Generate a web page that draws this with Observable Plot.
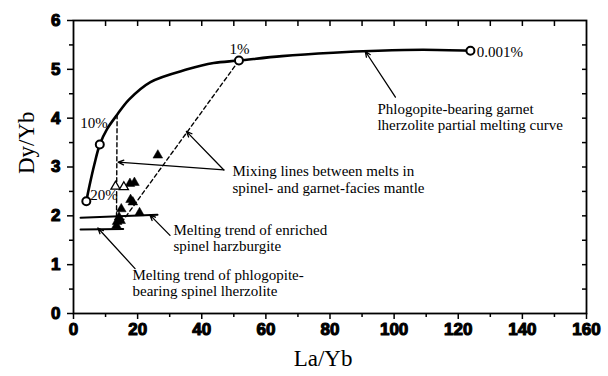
<!DOCTYPE html>
<html><head><meta charset="utf-8">
<script src="https://cdn.jsdelivr.net/npm/d3@7"></script>
<script src="https://cdn.jsdelivr.net/npm/@observablehq/plot@0.6"></script>
<style>
body{margin:0;background:#fff}
#chart svg{display:block}
</style>
</head><body><div id="chart"></div>
<script>
// Partial melting curve of phlogopite-bearing garnet lherzolite
const curveLaYb = [4.0, 5.0, 6.5, 8.2, 10.5, 13.6, 17.3, 24, 35.5, 43.7, 51.6, 65, 81, 95, 109, 123.8];
const curveDyYb = [2.30, 2.62, 3.05, 3.46, 3.78, 4.07, 4.38, 4.74, 5.00, 5.13, 5.18, 5.27, 5.34, 5.38, 5.40, 5.38];
// Melting-degree markers on the curve
const markLaYb = [4.0, 8.2, 51.6, 123.8];
const markDyYb = [2.30, 3.46, 5.18, 5.38];
const markLabel = ["20%", "10%", "1%", "0.001%"];
// Samples (filled triangles)
const sampleLaYb = [26.3, 17.6, 19.0, 17.8, 18.5, 14.9, 20.6, 14.2, 14.7, 13.6, 13.4];
const sampleDyYb = [3.24, 2.66, 2.68, 2.33, 2.28, 2.14, 2.06, 1.97, 1.90, 1.88, 1.80];
// Samples (open triangles)
const openLaYb = [13.1, 15.7];
const openDyYb = [2.60, 2.59];
// Spinel melting trends
const harzLaYb = [2.2, 26.2], harzDyYb = [1.96, 2.02];
const lherzLaYb = [2.2, 15.5], lherzDyYb = [1.72, 1.73];
// Mixing lines
const mixA_LaYb = [13.6, 13.4], mixA_DyYb = [4.07, 1.80];
const mixB_LaYb = [51.6, 14.5], mixB_DyYb = [5.18, 1.82];
// Annotation texts
const noteText = [
  "Phlogopite-bearing garnet\nlherzolite partial melting curve",
  "Mixing lines between melts in\nspinel- and garnet-facies mantle",
  "Melting trend of enriched\nspinel harzburgite",
  "Melting trend of phlogopite-\nbearing spinel lherzolite"
];
const xTicks = [0, 20, 40, 60, 80, 100, 120, 140, 160];
const yTicks = [0, 1, 2, 3, 4, 5, 6];

const serif = "'Liberation Serif', 'Times New Roman', serif";
const sans = "'Liberation Sans', Arial, sans-serif";

const pts = (xs, ys) => xs.map((x, i) => ({x, y: ys[i]}));
const curve = pts(curveLaYb, curveDyYb);
const marks = markLaYb.map((x, i) => ({x, y: markDyYb[i], label: markLabel[i]}));
const samples = pts(sampleLaYb, sampleDyYb);
const opens = pts(openLaYb, openDyYb);

// label placement (layout)
const markLabelPos = [
  {x: 5.2, y: 2.42, a: "start"},
  {x: 6.4, y: 3.89, a: "middle"},
  {x: 51.8, y: 5.42, a: "middle"},
  {x: 125.8, y: 5.36, a: "start"}
];
const notePos = [
  {x: 94.8, y: 4.03}, {x: 49.6, y: 2.75}, {x: 31.2, y: 1.55}, {x: 18.4, y: 0.63}
];
const arrows = [
  {x1: 100.4, y1: 4.43, x2: 91.0, y2: 5.37},
  {x1: 46.9, y1: 2.94, x2: 13.9, y2: 3.10},
  {x1: 46.9, y1: 2.94, x2: 35.2, y2: 3.73},
  {x1: 30.1, y1: 1.60, x2: 23.8, y2: 2.02},
  {x1: 19.2, y1: 0.92, x2: 7.6, y2: 1.75}
];

const labelMarks = marks.map((d, i) => Plot.text([d], {
  x: () => markLabelPos[i].x, y: () => markLabelPos[i].y, text: "label",
  textAnchor: markLabelPos[i].a, fontSize: 15, fontFamily: serif
}));

const boldTick = {fontSize: 17, fontWeight: "bold", fontFamily: sans, fill: "#000", stroke: "#000", strokeWidth: 1.1};

const chart = Plot.plot({
  width: 608, height: 376,
  marginLeft: 73, marginRight: 22, marginTop: 20, marginBottom: 63,
  x: {domain: [0, 160]},
  y: {domain: [0, 6]},
  style: {background: "#fff", color: "#000"},
  marks: [
    Plot.axisY(yTicks, {tickSize: 6, strokeWidth: 1.5, fill: "none", label: null}),
    Plot.axisY(d3.range(0.5, 6, 1), {tickSize: 4, fill: "none", label: null, strokeWidth: 1.5}),
    Plot.axisX(xTicks, {tickSize: 6, strokeWidth: 1.5, fill: "none", label: null}),
    Plot.axisX(d3.range(10, 160, 20), {tickSize: 4, fill: "none", label: null, strokeWidth: 1.5}),
    Plot.axisX(d3.range(10, 160, 10), {anchor: "top", tickSize: 5, dy: 5, fill: "none", label: null, strokeWidth: 1.5}),
    Plot.axisY(d3.range(0.5, 6, 0.5), {anchor: "right", tickSize: 5, dx: -5, fill: "none", label: null, strokeWidth: 1.5}),
    // tick labels drawn as text marks (heavy sans-serif)
    Plot.text(yTicks, {y: d => d, text: d => String(d), frameAnchor: "left", textAnchor: "end", dx: -13, ...boldTick}),
    Plot.text(xTicks, {x: d => d, text: d => String(d), frameAnchor: "bottom", lineAnchor: "top", dy: 9, ...boldTick}),
    Plot.frame({strokeWidth: 1.8}),
    // trend lines
    Plot.line(pts(harzLaYb, harzDyYb), {x: "x", y: "y", strokeWidth: 2}),
    Plot.line(pts(lherzLaYb, lherzDyYb), {x: "x", y: "y", strokeWidth: 2}),
    Plot.line(pts(mixA_LaYb, mixA_DyYb), {x: "x", y: "y", strokeWidth: 1.4, strokeDasharray: "4,3"}),
    Plot.line(pts(mixB_LaYb, mixB_DyYb), {x: "x", y: "y", strokeWidth: 1.4, strokeDasharray: "4,3"}),
    Plot.line(curve, {x: "x", y: "y", strokeWidth: 2.6, curve: "catmull-rom"}),
    Plot.arrow(arrows, {x1: "x1", y1: "y1", x2: "x2", y2: "y2", strokeWidth: 1.3, headLength: 7, headAngle: 45}),
    Plot.dot(samples, {x: "x", y: "y", symbol: "triangle", r: 3.6, fill: "#000", stroke: "#000", strokeWidth: 0.5}),
    Plot.dot(opens, {x: "x", y: "y", symbol: "triangle", r: 3.4, fill: "#fff", stroke: "#000", strokeWidth: 1.3}),
    Plot.dot(marks, {x: "x", y: "y", r: 4, fill: "#fff", stroke: "#000", strokeWidth: 2}),
    ...labelMarks,
    Plot.text(noteText, {x: (d, i) => notePos[i].x, y: (d, i) => notePos[i].y, text: d => d,
      textAnchor: "start", fontSize: 15, lineHeight: 1.1, fontFamily: serif}),
    Plot.text(["Dy/Yb"], {frameAnchor: "left", dx: -47, dy: 7, rotate: -90, fontSize: 23, fontFamily: serif}),
    Plot.text(["La/Yb"], {frameAnchor: "bottom", dx: -7, dy: 52, fontSize: 23, fontFamily: serif})
  ]
});
document.getElementById("chart").appendChild(chart);
</script>
</body></html>
